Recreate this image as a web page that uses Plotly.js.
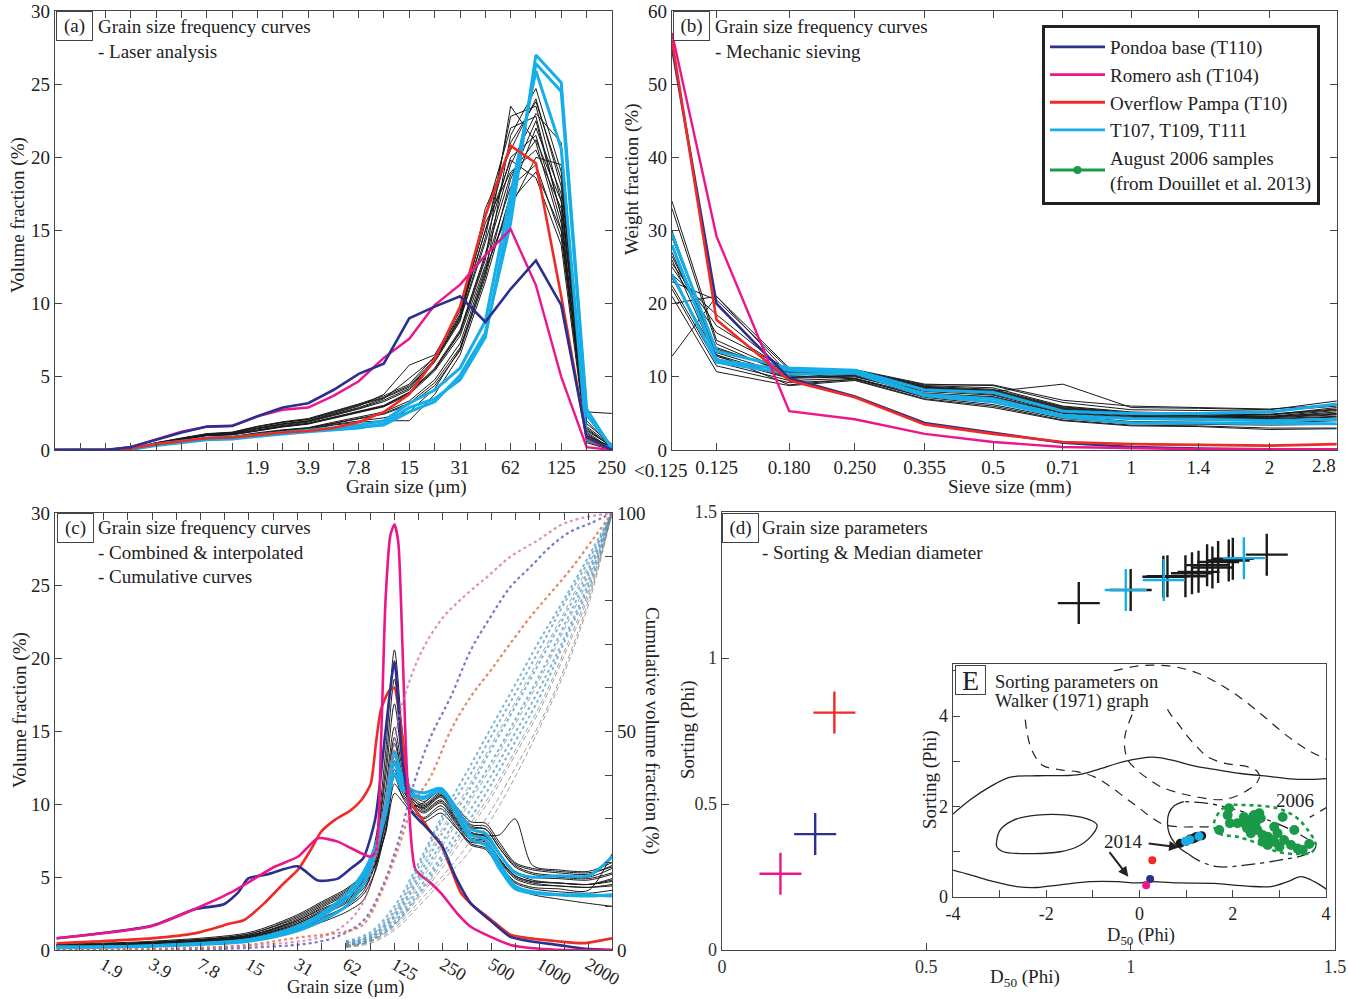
<!DOCTYPE html>
<html><head><meta charset="utf-8">
<script src="https://cdn.plot.ly/plotly-3.0.1.min.js"></script>
<style>html,body{margin:0;padding:0;background:#fff}#chart{width:1348px;height:999px}</style>
</head><body><div id="chart"></div>
<script>
// ---------------- Panel (a): laser analysis ----------------
const aSize = [0.122,0.173,0.244,0.345,0.488,0.69,0.977,1.38,1.95,2.76,3.91,5.52,7.81,11.0,15.6,22.1,31.3,44.2,62.5,88.4,125,177,250];
const aTickVals = [0.122,0.173,0.244,0.345,0.488,0.69,0.977,1.38,1.95,2.76,3.91,5.52,7.81,11.0,15.6,22.1,31.3,44.2,62.5,88.4,125,177,250];
const aTickText = ['','','','','','','','','1.9','','3.9','','7.8','','15','','31','','62','','125','','250'];
const aPondoa = [0,0,0,0.2,0.7,1.2,1.6,1.65,2.3,2.9,3.2,4.1,5.2,5.9,9.0,9.8,10.5,8.75,11.0,12.95,9.9,0.9,0];
const aRomero = [0,0,0,0.2,0.7,1.25,1.6,1.65,2.3,2.75,2.9,3.7,4.7,6.3,7.6,9.9,11.3,13.3,15.1,11.25,5.0,0.2,0];
const aOverflow = [0,0,0,0.1,0.4,0.6,0.8,0.85,1.05,1.2,1.3,1.5,1.9,2.6,3.8,6.2,9.8,16.0,20.8,19.6,10.5,0.8,0];
const aCyan = [
 [0,0,0,0.05,0.35,0.55,0.75,0.8,1.0,1.15,1.3,1.4,1.55,1.7,2.6,3.3,5.1,8.0,15.5,27.0,25.1,2.8,0.1],
 [0,0,0,0.05,0.3,0.5,0.7,0.75,0.95,1.1,1.25,1.35,1.5,1.8,2.9,3.5,4.8,7.7,16.5,26.4,24.5,2.4,0.2],
 [0,0,0,0.1,0.4,0.6,0.8,0.85,1.05,1.2,1.35,1.5,1.7,2.0,3.2,4.1,5.6,8.8,17.5,25.9,20.6,0.7,0.1]
];
const aBlack = [
 [0,0,0,0.1,0.4,0.7,1.0,1.05,1.35,1.6,1.8,2.2,2.6,3.0,3.9,5.5,8.0,13.0,23.5,21.0,15.0,1.5,0.2],
 [0,0,0,0.1,0.5,0.8,1.1,1.2,1.6,1.9,2.1,2.6,3.1,3.6,4.4,6.2,9.0,14.5,22.8,23.5,17.0,1.0,0.1],
 [0,0,0,0.05,0.35,0.6,0.85,0.9,1.15,1.35,1.5,1.85,2.2,2.5,3.2,4.6,7.0,12.0,21.5,24.7,19.0,0.8,0.3],
 [0,0,0,0.1,0.45,0.75,1.0,1.1,1.45,1.7,1.9,2.35,2.8,3.3,4.1,6.0,8.8,16.5,20.5,24.0,18.0,2.0,0.2],
 [0,0,0,0.1,0.42,0.72,1.02,1.08,1.38,1.62,1.82,2.25,2.65,3.05,3.95,5.6,8.2,13.4,19.5,23.0,21.0,1.2,0.1],
 [0,0,0,0.05,0.33,0.58,0.83,0.88,1.12,1.32,1.48,1.8,2.15,2.45,3.1,4.4,6.8,11.8,18.5,22.5,16.0,0.5,0.0],
 [0,0,0,0.05,0.3,0.55,0.8,0.85,1.05,1.25,1.4,1.7,1.9,2.0,2.0,3.8,6.5,11.5,17.5,22.0,17.5,0.9,0.2],
 [0,0,0,0.1,0.48,0.78,1.08,1.18,1.58,1.88,2.08,2.55,3.05,3.55,4.3,6.1,8.9,14.2,20.0,21.5,15.5,1.3,0.3],
 [0,0,0,0.1,0.45,0.75,1.05,1.15,1.5,1.8,2.0,2.5,3.0,3.8,5.8,6.5,9.5,15.5,19.0,20.5,16.5,2.6,2.5],
 [0,0,0,0.1,0.38,0.68,0.98,1.03,1.32,1.57,1.77,2.15,2.55,2.95,3.8,5.4,7.8,12.6,18.0,19.5,14.5,1.1,0.1],
 [0,0,0,0.05,0.32,0.57,0.82,0.87,1.08,1.28,1.43,1.75,1.98,2.2,2.6,4.2,6.9,12.2,17.0,19.0,15.0,0.7,0.2],
 [0,0,0,0.05,0.36,0.62,0.87,0.92,1.18,1.38,1.53,1.9,2.25,2.6,3.35,4.8,7.3,12.4,16.6,20.0,19.5,1.6,0.3],
 [0,0,0,0.1,0.46,0.76,1.03,1.13,1.48,1.74,1.95,2.4,2.85,3.4,4.2,6.1,9.1,16.0,22.0,22.8,16.0,1.0,0.1],
 [0,0,0,0.1,0.5,0.82,1.12,1.22,1.62,1.93,2.15,2.65,3.15,3.7,4.5,6.4,9.3,15.0,21.0,23.8,18.5,1.4,0.2],
 [0,0,0,0.1,0.44,0.74,1.04,1.14,1.48,1.78,1.98,2.45,2.9,3.5,4.9,6.3,9.2,15.0,19.8,18.6,14.0,0.6,0.0],
 [0,0,0,0.1,0.41,0.71,1.01,1.06,1.36,1.61,1.81,2.2,2.6,3.0,3.9,5.5,8.1,13.2,18.8,21.2,17.0,1.8,0.4]
];

// ---------------- Panel (b): mechanic sieving ----------------
// 0.1 mm stands for the "<0.125" pan class
const bSize = [0.1,0.125,0.18,0.25,0.355,0.5,0.71,1,1.4,2,2.8];
const bTickText = ['','0.125','0.180','0.250','0.355','0.5','0.71','1','1.4','2',''];
const bEdgeLabels = ['<0.125','2.8'];
const bPondoa = [55.0,20.0,9.8,7.3,3.7,2.4,1.0,0.4,0.2,0.1,0.1];
const bRomero = [57.0,29.2,5.3,4.2,2.2,1.1,0.4,0.2,0.1,0.1,0.1];
const bOverflow = [56.0,17.8,9.5,7.2,3.5,2.2,1.1,0.8,0.7,0.6,0.8];
const bCyan = [
 [29.5,13.5,11.2,10.9,8.2,7.9,5.3,5.0,5.0,5.2,6.3],
 [28.0,12.3,10.9,10.7,7.6,7.0,4.7,4.3,4.2,4.0,4.2],
 [24.0,12.0,10.4,10.5,7.4,6.6,4.5,3.7,3.7,3.6,3.6]
];
const bBlack = [
 [34.0,15.0,10.5,10.8,8.8,8.5,6.0,5.2,5.0,4.8,5.5],
 [33.0,14.5,10.2,10.6,8.5,8.2,5.8,5.0,4.9,4.6,5.0],
 [29.0,13.8,10.8,11.0,9.0,8.8,6.5,5.5,5.4,5.3,6.0],
 [27.0,13.0,10.0,10.2,8.0,7.5,5.2,4.6,4.5,4.4,4.8],
 [26.0,12.5,9.8,10.0,7.8,7.2,5.0,4.4,4.3,4.2,4.5],
 [25.0,16.0,11.0,10.4,8.3,7.6,5.5,4.8,4.7,4.5,5.2],
 [24.0,18.5,10.5,9.8,7.5,7.0,4.8,4.2,4.1,4.0,4.3],
 [23.0,20.5,11.0,10.6,8.6,8.0,5.6,4.9,4.8,4.6,5.4],
 [22.5,12.0,9.5,9.8,7.2,6.2,4.3,3.6,3.5,3.4,3.5],
 [22.0,11.5,9.2,9.6,7.0,6.0,4.1,3.4,3.3,3.0,3.0],
 [21.0,10.7,8.8,9.5,6.9,5.8,4.0,3.3,3.2,2.8,2.9],
 [20.0,21.0,11.2,10.9,8.7,8.3,5.9,5.1,5.0,4.9,5.6],
 [12.8,21.0,10.3,10.5,8.4,8.0,9.0,5.8,5.7,5.5,6.7],
 [26.5,14.0,10.6,10.9,8.9,8.9,6.8,6.0,5.8,5.6,6.2],
 [28.0,13.3,10.3,10.3,8.1,7.8,5.4,4.7,4.6,4.5,4.9],
 [30.0,12.8,9.9,10.1,7.7,7.3,5.1,4.5,4.4,4.3,4.6],
 [23.5,13.0,8.9,9.7,7.3,6.5,4.6,3.9,3.8,3.7,4.0],
 [25.5,17.0,10.7,10.7,8.6,8.1,5.7,5.0,4.9,4.8,5.8]
];

// ---------------- Panel (c): combined & interpolated ----------------
const cTickVals = [0.977,1.38,1.95,2.76,3.91,5.52,7.81,11.0,15.6,22.1,31.3,44.2,62.5,88.4,125,177,250,354,500,707,1000,1414,2000];
const cTickText = ['','','1.9','','3.9','','7.8','','15','','31','','62','','125','','250','','500','','1000','','2000'];
const cPondoaX = [1,3.9,7.2,10.9,13.4,15.4,20.5,31.4,41.9,55.6,67,80,95,110,125,140,160,190,243,300,372,495,656,875,1290,1860,2800];
const cPondoaY = [0.81,1.67,2.8,3.14,3.95,4.9,5.2,5.74,4.77,4.9,5.6,6.3,9.0,15.0,19.8,13.0,9.5,8.6,7.3,5.0,3.2,2.0,0.9,0.6,0.35,0.1,0];
const cRomeroX = [1,3.87,7.16,12.1,22.4,31.4,41.9,55.6,67,89,96,103,110,118,125,132,140,147,154,169,210,243,307,372,495,656,960,1400,2800];
const cRomeroY = [0.81,1.63,2.8,3.95,5.7,6.4,7.67,7.44,7.0,6.4,6.8,14.0,24.0,28.5,29.2,28.0,21.0,14.0,9.6,5.5,4.6,3.9,2.5,1.6,0.9,0.35,0.1,0,0];
const cOverflowX = [1,3.87,7.16,12.1,14.6,19.4,25.8,31.4,37.9,43.7,52.8,67,78,89,96,103,116,125,131,140,149,158,182,210,243,280,322,388,495,656,875,1287,1860,2800];
const cOverflowY = [0.46,0.8,1.14,1.83,2.06,3.2,4.6,5.5,6.9,8.1,8.9,9.6,10.3,11.4,14.2,16.5,17.8,18.0,16.9,14.6,11.9,10.1,9.1,8.1,7.2,5.6,3.95,3.0,2.1,1.05,0.8,0.6,0.47,0.8];
const cGrid = [1,3.9,15.6,31,44,62.5,80,95,110,125,140,160,190,243,300,372,460,560,700,900,1300,2000,2800];
const cCyan = [
 [0.2,0.3,0.7,1.5,2.3,3.5,5.0,7.0,10.0,13.6,11.8,11.0,10.8,11.1,9.8,8.3,8.0,6.6,5.3,5.0,5.1,5.1,6.4],
 [0.15,0.25,0.6,1.3,2.0,3.0,4.5,6.5,9.5,12.8,11.3,10.6,10.4,10.9,9.5,7.9,7.6,6.0,4.4,4.0,3.8,3.7,3.8],
 [0.2,0.3,0.7,1.6,2.5,3.8,5.3,7.1,9.3,12.1,11.0,10.7,10.5,11.0,9.4,7.6,7.2,5.6,4.2,3.9,3.8,3.8,3.7]
];
const cBlack = [
 [0.35,0.5,1.0,2.0,2.8,3.6,4.8,7.5,13.5,20.6,15.0,10.8,10.2,10.9,9.6,8.4,8.3,7.0,5.8,5.3,5.1,5.0,5.6],
 [0.3,0.45,0.9,1.7,2.5,3.3,4.4,7.0,12.5,18.6,13.8,10.5,9.8,10.6,9.3,8.0,7.8,6.5,5.3,4.8,4.6,4.5,4.9],
 [0.4,0.6,1.2,2.4,3.3,4.2,5.2,7.2,11.8,16.9,13.0,10.9,10.4,11.1,9.8,8.6,8.5,7.2,5.9,5.5,5.3,5.2,5.8],
 [0.3,0.5,1.0,2.1,3.0,3.9,4.9,6.8,11.0,15.3,12.4,10.3,9.6,10.3,9.0,7.7,7.5,6.2,5.0,4.6,4.4,4.3,4.5],
 [0.25,0.4,0.8,1.5,2.2,3.0,4.0,6.0,10.2,14.6,12.0,10.6,10.0,10.8,9.4,8.1,7.9,7.9,9.0,5.8,5.5,5.4,6.0],
 [0.3,0.45,0.9,1.8,2.6,3.5,4.5,6.3,10.0,14.2,11.8,10.1,9.5,10.2,8.9,7.6,7.4,6.1,4.9,4.5,4.4,4.3,4.4],
 [0.35,0.5,1.1,2.2,3.1,4.0,5.0,6.6,9.8,13.7,11.5,10.4,9.9,10.7,9.3,8.0,7.8,6.6,5.4,5.0,4.9,4.8,5.2],
 [0.2,0.35,0.7,1.3,1.9,2.6,3.4,5.5,9.2,13.3,11.3,9.9,9.1,9.9,8.7,7.3,7.0,5.8,4.6,4.2,4.0,3.9,4.1],
 [0.3,0.45,0.95,1.9,2.7,3.6,4.6,6.2,9.0,12.8,11.0,10.2,9.7,10.5,9.1,7.9,7.6,6.3,5.1,4.7,4.6,4.5,4.7],
 [0.25,0.4,0.85,1.6,2.4,3.2,4.2,5.8,8.7,12.4,10.8,10.0,9.8,10.6,9.6,8.5,8.3,7.0,5.7,5.2,5.0,4.9,5.3],
 [0.2,0.35,0.75,1.4,2.1,2.9,3.8,5.4,8.3,11.9,10.5,9.6,9.0,9.7,8.5,7.2,6.9,5.6,4.3,3.8,3.5,3.2,3.0],
 [0.3,0.5,1.0,2.0,2.9,3.8,4.7,5.9,8.0,10.75,10.2,9.4,8.8,9.4,8.4,7.4,7.3,6.2,5.1,4.7,4.6,4.5,4.8],
 [0.3,0.45,0.9,1.8,2.6,3.4,4.4,5.8,8.1,11.4,10.6,9.9,10.1,11.0,9.9,8.8,8.7,7.4,6.0,5.6,5.4,5.3,5.7],
 [0.35,0.55,1.1,2.3,3.2,4.1,5.1,6.4,9.1,13.0,11.2,10.0,9.4,10.1,8.8,7.5,7.2,5.9,4.7,4.3,4.2,4.1,6.6]
];
// cumulative curves (right axis, %)
const cumRomeroX = [1,15.6,44,62.5,80,94,110,131,151,182,243,338,471,656,975,1360,1800,2800];
const cumRomeroY = [0,1,3,6,11,20.6,33.6,51.9,60.3,67.9,75.5,80.9,85.4,90,93.8,97.3,98.8,100];
const cumPondoaX = [1,15.6,44,62.5,81,103,131,165,210,280,372,495,656,875,1160,1540,2040,2800];
const cumPondoaY = [0,0.5,2,4,6.9,13.7,24.4,38.1,48.8,58,68.6,76.3,83.1,87.7,92.3,95.7,97.6,100];
const cumOverflowX = [1,7.8,15.6,31,67,81,103,131,165,210,280,372,495,656,875,1160,1540,2040,2800];
const cumOverflowY = [0,0.5,1.2,2.8,4.5,6.0,13,22.9,33.6,39.7,50.3,58,64,70.2,76.3,81.6,87,93,100];
const cumGrid = [62.5,88,125,177,250,355,500,710,1000,1400,2000,2800];
const cumOthers = [
 [1.5,3,8,17,27,36,46,56,66,76,87,100],
 [1.2,2.5,7,15,24,33,42,52,62,73,85,100],
 [1.0,2.2,6,13,21,29,38,48,58,70,83,100],
 [0.8,2.0,5.5,12,19,27,35,45,55,67,81,100],
 [1.8,3.5,9,19,30,39,49,59,69,79,89,100],
 [0.6,1.5,4.5,10,16,22,30,40,51,63,79,100],
 [1.3,2.8,7.5,16,25,34,43,53,63,74,86,100],
 [0.9,2.0,5.8,12.5,20,28,36,46,56,68,82,100],
 [2.0,4.0,10,20,31,41,51,61,71,80,90,100],
 [0.7,1.8,5,11,17,24,32,42,52,64,80,100],
 [1.1,2.4,6.5,14,22,31,40,50,60,71,84,100],
 [1.6,3.2,8.5,18,28,37,47,57,67,77,88,100]
];

// ---------------- Panel (d): sorting vs median ----------------
const dD50Pondoa = [0.228], dSortPondoa = [0.397];
const dD50Romero = [0.143], dSortRomero = [0.261];
const dD50Overflow = [0.275], dSortOverflow = [0.813];
const dD50Black = [0.873,1.0,1.08,1.09,1.134,1.15,1.166,1.187,1.2,1.214,1.24,1.25,1.333];
const dSortBlack = [1.188,1.233,1.278,1.28,1.28,1.29,1.295,1.318,1.31,1.329,1.334,1.34,1.354];
const dD50Cyan = [0.988,1.081,1.277];
const dSortCyan = [1.233,1.267,1.342];

// ---------------- Inset E: Walker (1971) fields ----------------
const wOuterUpX = [-4.06,-3.63,-3.2,-2.77,-2.2,-1.34,-0.91,-0.34,0.27,0.67,1.24,1.67,2.17,2.82,3.39,4.04];
const wOuterUpY = [1.78,2.15,2.44,2.65,2.68,2.70,2.81,2.99,3.09,3.03,2.88,2.81,2.73,2.66,2.60,2.62];
const wOuterLowX = [-4.06,-3.63,-3.13,-2.63,-2.2,-1.7,-1.05,-0.48,-0.05,0.24,0.88,1.6,2.31,2.82,3.18,3.46,3.75,4.04];
const wOuterLowY = [0.61,0.49,0.34,0.23,0.21,0.27,0.34,0.34,0.31,0.34,0.31,0.30,0.24,0.23,0.34,0.45,0.34,0.15];
const wInnerX = [-3.06,-2.99,-2.7,-2.2,-1.55,-1.05,-0.91,-1.05,-1.34,-1.7,-2.27,-2.92,-3.06,-3.06];
const wInnerY = [1.26,1.48,1.70,1.81,1.81,1.70,1.59,1.33,1.11,1.0,0.96,1.0,1.11,1.26];
const wDash1X = [-2.45,-2.41,-2.31,-2.09,-1.7,-1.34,-0.98,-0.62,-0.34,-0.05,0.2,0.52,0.9,1.24,1.5];
const wDash1Y = [3.92,3.62,3.25,2.92,2.81,2.77,2.66,2.44,2.22,2.0,1.8,1.6,1.55,1.55,1.55];
const wDash2X = [-0.16,-0.3,-0.32,-0.25,-0.05,0.2,0.45,0.88,1.3,1.7,2.0,2.3,2.5,2.58];
const wDash2Y = [4.03,3.62,3.32,3.03,2.8,2.6,2.44,2.29,2.2,2.15,2.2,2.35,2.5,2.66];
const wDash3X = [-0.55,0.1,0.74,1.24,1.74,2.17,2.67,3.18,3.61,4.04];
const wDash3Y = [5.0,5.12,5.09,4.95,4.69,4.40,3.99,3.55,3.25,3.03];
const wDash4X = [0.6,0.67,0.85,1.03,1.25,1.46,1.81,2.31,2.5,2.58];
const wDash4Y = [4.15,4.03,3.8,3.55,3.3,3.10,2.96,2.88,2.8,2.68];
const wDash5X = [4.04,3.85,3.65];
const wDash5Y = [2.0,1.88,1.76];
const wFieldSolidX = [0.95,0.75,0.63,0.6,0.64,0.75,0.9,1.05];
const wFieldSolidY = [2.11,2.02,1.85,1.63,1.4,1.2,1.05,0.95];
const wFieldDashX = [1.05,1.24,1.67,2.31,3.03,3.53,3.78,3.46,3.03,2.53,1.96,1.46,0.95];
const wFieldDashY = [0.95,0.82,0.67,0.71,0.82,0.93,1.11,1.37,1.59,1.78,1.96,2.07,2.11];
const g2006X = [1.92,1.89,1.94,1.71,2.10,2.24,2.28,2.35,2.31,2.39,2.46,2.57,2.60,2.42,2.49,2.53,2.64,2.75,2.82,2.64,2.75,2.89,2.96,3.07,3.0,3.10,3.25,3.32,3.39,3.50,3.64,2.89];
const g2006Y = [1.96,1.81,1.63,1.48,1.63,1.77,1.59,1.70,1.52,1.41,1.81,1.85,1.74,1.55,1.63,1.48,1.37,1.33,1.26,1.22,1.15,1.22,1.41,1.77,1.11,1.26,1.15,1.48,1.07,1.04,1.17,1.55];
const g2006HullX = [1.63,1.85,2.31,2.96,3.35,3.61,3.78,3.68,3.39,2.96,2.53,2.10,1.74,1.60,1.63];
const g2006HullY = [1.74,2.0,2.03,1.96,1.77,1.48,1.15,0.98,0.95,1.0,1.19,1.33,1.39,1.55,1.74];

// ---------------- styling ----------------
const F = 'Liberation Serif, Times New Roman, serif';
const C = {navy:'#2b2f8f', pink:'#ec168c', red:'#ee2b25', cyan:'#16aee9', green:'#1a9a48', black:'#1a1a1a'};
const px = v => v/1348, py = v => 1 - v/999;
const traces = [];
function L(x, y, xa, ya, color, width, extra) {
  const t = {x, y, xaxis:xa, yaxis:ya, type:'scatter', mode:'lines', line:Object.assign({color, width}, (extra && extra.line) || {}), showlegend:false, hoverinfo:'skip'};
  if (extra) for (const k in extra) if (k !== 'line') t[k] = extra[k];
  return t;
}
// panel a
aBlack.forEach(y => traces.push(L(aSize, y, 'x', 'y', C.black, 1)));
aCyan.forEach(y => traces.push(L(aSize, y, 'x', 'y', C.cyan, 3)));
traces.push(L(aSize, aOverflow, 'x', 'y', C.red, 2.6));
traces.push(L(aSize, aRomero, 'x', 'y', C.pink, 2.4));
traces.push(L(aSize, aPondoa, 'x', 'y', C.navy, 2.6));
// panel b
bBlack.forEach(y => traces.push(L(bSize, y, 'x2', 'y2', C.black, 1)));
bCyan.forEach(y => traces.push(L(bSize, y, 'x2', 'y2', C.cyan, 3)));
traces.push(L(bSize, bPondoa, 'x2', 'y2', C.navy, 2.6));
traces.push(L(bSize, bOverflow, 'x2', 'y2', C.red, 2.6));
traces.push(L(bSize, bRomero, 'x2', 'y2', C.pink, 2.4));
// panel c cumulative (right axis)
cumOthers.forEach((y, i) => traces.push(L(cumGrid, y, 'x3', 'y4', i % 2 ? 'rgba(120,120,120,0.7)' : 'rgba(70,150,200,0.7)', i % 2 ? 1 : 2, {line:{dash: i % 2 ? '5px,3px' : 'dot', shape:'spline'}})));
traces.push(L(cumRomeroX, cumRomeroY, 'x3', 'y4', 'rgba(205,110,165,0.75)', 2.2, {line:{dash:'dot', shape:'spline'}}));
traces.push(L(cumPondoaX, cumPondoaY, 'x3', 'y4', 'rgba(100,95,190,0.85)', 2.2, {line:{dash:'dot', shape:'spline'}}));
traces.push(L(cumOverflowX, cumOverflowY, 'x3', 'y4', 'rgba(225,115,75,0.85)', 2.2, {line:{dash:'dot', shape:'spline'}}));
// panel c frequency
cBlack.forEach(y => traces.push(L(cGrid, y, 'x3', 'y3', C.black, 1, {line:{shape:'spline', smoothing:0.8}})));
cCyan.forEach(y => traces.push(L(cGrid, y, 'x3', 'y3', C.cyan, 3, {line:{shape:'spline', smoothing:0.8}})));
traces.push(L(cOverflowX, cOverflowY, 'x3', 'y3', C.red, 2.6, {line:{shape:'spline', smoothing:0.6}}));
traces.push(L(cPondoaX, cPondoaY, 'x3', 'y3', C.navy, 2.6, {line:{shape:'spline', smoothing:0.6}}));
traces.push(L(cRomeroX, cRomeroY, 'x3', 'y3', C.pink, 2.6, {line:{shape:'spline', smoothing:0.6}}));
// panel d crosses
function crosses(x, y, color, xa, ya) {
  return {x, y, xaxis:xa, yaxis:ya, type:'scatter', mode:'markers', showlegend:false, hoverinfo:'skip',
    marker:{symbol:'cross-thin', size:30, color, line:{color, width:2.4}}};
}
traces.push(crosses(dD50Black, dSortBlack, C.black, 'x4', 'y5'));
traces.push(crosses(dD50Cyan, dSortCyan, C.cyan, 'x4', 'y5'));
traces.push(crosses(dD50Overflow, dSortOverflow, C.red, 'x4', 'y5'));
traces.push(crosses(dD50Pondoa, dSortPondoa, C.navy, 'x4', 'y5'));
traces.push(crosses(dD50Romero, dSortRomero, C.pink, 'x4', 'y5'));
// inset E
traces.push(L(wOuterUpX, wOuterUpY, 'x5', 'y6', '#222', 1.3, {line:{shape:'spline'}}));
traces.push(L(wOuterLowX, wOuterLowY, 'x5', 'y6', '#222', 1.3, {line:{shape:'spline'}}));
traces.push(L(wInnerX, wInnerY, 'x5', 'y6', '#222', 1.3, {line:{shape:'spline'}}));
[[wDash1X,wDash1Y],[wDash2X,wDash2Y],[wDash3X,wDash3Y],[wDash4X,wDash4Y],[wDash5X,wDash5Y]].forEach(p =>
  traces.push(L(p[0], p[1], 'x5', 'y6', '#222', 1.2, {line:{dash:'9px,7px', shape:'spline'}})));
traces.push(L(wFieldSolidX, wFieldSolidY, 'x5', 'y6', '#222', 1.3, {line:{shape:'spline'}}));
traces.push(L(wFieldDashX, wFieldDashY, 'x5', 'y6', '#222', 1.3, {line:{dash:'14px,5px,4px,5px', shape:'spline'}}));
traces.push(L(g2006HullX, g2006HullY, 'x5', 'y6', C.green, 2.6, {line:{dash:'4px,4px', shape:'spline'}}));
function dots(x, y, color, size) {
  return {x, y, xaxis:'x5', yaxis:'y6', type:'scatter', mode:'markers', showlegend:false, hoverinfo:'skip', marker:{symbol:'circle', size, color}};
}
traces.push(dots(g2006X, g2006Y, C.green, 10));
traces.push(dots(dD50Black, dSortBlack, C.black, 9));
traces.push(dots(dD50Cyan, dSortCyan, C.cyan, 9));
traces.push(dots(dD50Overflow, dSortOverflow, C.red, 8));
traces.push(dots(dD50Pondoa, dSortPondoa, C.navy, 8));
traces.push(dots(dD50Romero, dSortRomero, C.pink, 8));
// legend entries (panel b)
const legendNames = ['Pondoa base (T110)','Romero ash (T104)','Overflow Pampa (T10)','T107, T109, T111','August 2006 samples<br>(from Douillet et al. 2013)'];
const legendColors = [C.navy, C.pink, C.red, C.cyan, C.green];
legendNames.forEach((n, i) => traces.push({x:[null], y:[null], xaxis:'x2', yaxis:'y2', type:'scatter',
  mode: i === 4 ? 'lines+markers' : 'lines', name:n, line:{color:legendColors[i], width:2.8},
  marker:{size:8, color:legendColors[i]}, showlegend:true, legendgroup:'g'+i}));

const axBase = {showline:true, linecolor:'#444', linewidth:1.3, mirror:'ticks', ticks:'inside', ticklen:7,
  tickcolor:'#444', tickwidth:1, showgrid:false, zeroline:false, fixedrange:true, tickangle:0,
  tickfont:{family:F, size:19, color:'#222'}};
const ax = o => Object.assign({}, axBase, o);

const ann = [];
function T(text, x, y, o) { ann.push(Object.assign({text, x:px(x), y:py(y), xref:'paper', yref:'paper', showarrow:false,
  xanchor:'center', yanchor:'middle', font:{family:F, size:19, color:'#222'}}, o || {})); }
function box(text, x, y, w, h, size) { T(text, x, y, {xanchor:'left', yanchor:'top', bordercolor:'#444', borderwidth:1,
  borderpad:1, bgcolor:'#fff', width:w, height:h, font:{family:F, size:size || 19, color:'#222'}}); }
box('(a)', 56, 11, 33, 26); T('Grain size frequency curves<br>- Laser analysis', 96, 14, {xanchor:'left', yanchor:'top', align:'left'});
box('(b)', 673, 11, 33, 26); T('Grain size frequency curves<br>- Mechanic sieving', 713, 14, {xanchor:'left', yanchor:'top', align:'left'});
box('(c)', 57, 513, 33, 26); T('Grain size frequency curves<br>- Combined &amp; interpolated<br>- Cumulative curves', 96, 515, {xanchor:'left', yanchor:'top', align:'left'});
box('(d)', 722, 513, 33, 26); T('Grain size parameters<br>- Sorting &amp; Median diameter', 760, 515, {xanchor:'left', yanchor:'top', align:'left'});
box('E', 955, 665, 27, 26, 28);
T('Sorting parameters on', 993, 682, {xanchor:'left', font:{family:F, size:18.5, color:'#222'}});
T('Walker (1971) graph', 993, 701, {xanchor:'left', font:{family:F, size:18.5, color:'#222'}});
// edge tick labels of panel (b), shifted inside the figure as in the original
T(bEdgeLabels[0], 660, 470); T(bEdgeLabels[1], 1324, 466);
T('Grain size (µm)', 406, 487); T('Volume fraction (%)', 18, 215, {textangle:-90});
T('Sieve size (mm)', 1009, 487); T('Weight fraction (%)', 632, 180, {textangle:-90});
T('Grain size (µm)', 346, 987, {font:{family:F, size:18.5, color:'#222'}}); T('Volume fraction (%)', 20, 710, {textangle:-90});
T('Cumulative volume fraction (%)', 652, 730, {textangle:90});
T('Sorting (Phi)', 688, 730, {textangle:-90}); T('D<sub>50</sub> (Phi)', 1025, 978);
T('Sorting (Phi)', 930, 780, {textangle:-90}); T('D<sub>50</sub> (Phi)', 1141, 936, {font:{family:F, size:18.5, color:'#222'}});
T('2006', 1295, 800); T('2014', 1123, 841);
ann.push({x:0.85, y:1.1, xref:'x5', yref:'y6', text:'', showarrow:true, arrowhead:2, arrowsize:1, arrowwidth:2, arrowcolor:'#222', ax:-32, ay:-4});
ann.push({x:-0.24, y:0.45, xref:'x5', yref:'y6', text:'', showarrow:true, arrowhead:2, arrowsize:1, arrowwidth:2, arrowcolor:'#222', ax:-20, ay:-26});

const layout = {
  width:1348, height:999, margin:{l:0, r:0, t:0, b:0}, paper_bgcolor:'#fff', plot_bgcolor:'rgba(0,0,0,0)',
  font:{family:F, size:19, color:'#222'},
  xaxis: ax({domain:[px(55), px(612)], anchor:'y', type:'log', range:[Math.log10(0.122), Math.log10(250.5)], tickmode:'array', tickvals:aTickVals, ticktext:aTickText}),
  yaxis: ax({domain:[py(450), py(11)], anchor:'x', range:[0,30], tickmode:'array', tickvals:[0,5,10,15,20,25,30]}),
  xaxis2: ax({domain:[px(672), px(1337)], anchor:'y2', type:'log', range:[Math.log10(0.1), Math.log10(2.805)], tickmode:'array', tickvals:bSize, ticktext:bTickText}),
  yaxis2: ax({domain:[py(450), py(11)], anchor:'x2', range:[0,60], tickmode:'array', tickvals:[0,10,20,30,40,50,60]}),
  xaxis3: ax({domain:[px(55), px(612)], anchor:'y3', type:'log', range:[Math.log10(0.977), Math.log10(2800)], tickmode:'array', tickvals:cTickVals, ticktext:cTickText, tickangle:30, ticklabelstandoff:-4, tickfont:{family:F, size:18, color:'#222'}}),
  yaxis3: ax({domain:[py(950), py(513)], anchor:'x3', range:[0,30], mirror:false, tickmode:'array', tickvals:[0,5,10,15,20,25,30]}),
  yaxis4: ax({overlaying:'y3', side:'right', anchor:'x3', range:[0,100], mirror:false, tickmode:'array',
    tickvals:[0,10,20,30,40,50,60,70,80,90,100], ticktext:['0','','','','','50','','','','','100']}),
  xaxis4: ax({domain:[px(722), px(1335)], anchor:'y5', range:[0,1.5], mirror:true, tickmode:'array', tickvals:[0,0.5,1,1.5], ticktext:['0','0.5','1','1.5'], tickfont:{family:F, size:18, color:'#333'}}),
  yaxis5: ax({domain:[py(950), py(512)], anchor:'x4', range:[0,1.5], mirror:true, tickmode:'array', tickvals:[0,0.5,1,1.5], ticktext:['0','0.5','1','1.5'], tickfont:{family:F, size:18, color:'#333'}}),
  xaxis5: ax({domain:[px(953), px(1326)], anchor:'y6', range:[-4,4], mirror:true, tickmode:'array', tickvals:[-4,-3,-2,-1,0,1,2,3,4], ticktext:['-4','','-2','','0','','2','','4'], tickfont:{family:F, size:18, color:'#222'}}),
  yaxis6: ax({domain:[py(897), py(664)], anchor:'x5', range:[0,5.15], mirror:true, tickmode:'array', tickvals:[0,1,2,3,4,5], ticktext:['0','','2','','4',''], tickfont:{family:F, size:18, color:'#222'}}),
  showlegend:true,
  legend:{x:px(1042), y:py(25), xanchor:'left', yanchor:'top', bgcolor:'#fff', bordercolor:'#222', borderwidth:3,
    font:{family:F, size:19, color:'#222'}, itemwidth:55, tracegroupgap:3, traceorder:'normal'},
  annotations: ann
};
Plotly.newPlot('chart', traces, layout, {staticPlot:true, displayModeBar:false});
</script></body></html>
